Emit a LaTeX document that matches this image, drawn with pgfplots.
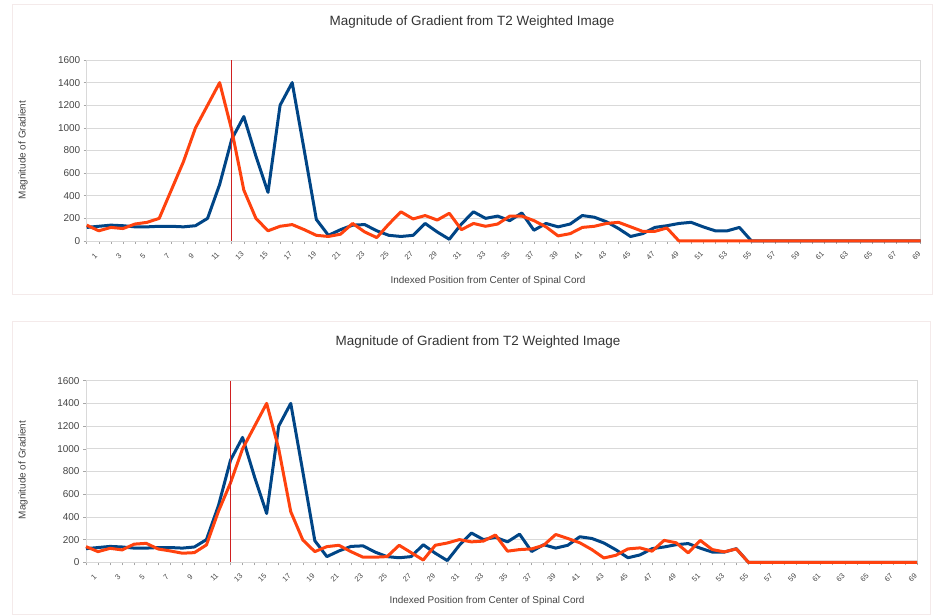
\documentclass[border=0pt]{standalone}
\usepackage{pgfplots}
\pgfplotsset{compat=1.18}
\usepackage{pgfplotstable}
\usepackage{fontspec}
\setmainfont{Liberation Sans}

\definecolor{seriesblue}{HTML}{004586}
\definecolor{seriesorange}{HTML}{FF420E}
\definecolor{markred}{HTML}{D02020}
\definecolor{gridgray}{HTML}{D9D9D9}
\definecolor{framepink}{HTML}{F4EAEA}
\definecolor{labelgray}{HTML}{444444}

% gradient magnitude per indexed position
\pgfplotstableread{
idx blue top bottom
1 120 140 138
2 130 90 94
3 140 120 123
4 135 110 109
5 125 150 160
6 125 165 167
7 130 200 117
8 130 450 100
9 125 700 80
10 135 1000 85
11 200 1200 153
12 500 1400 450
13 900 980 700
14 1100 450 1000
15 750 200 1200
16 430 90 1400
17 1200 130 1000
18 1400 145 446
19 800 100 197
20 190 50 94
21 50 40 138
22 100 60 150
23 140 155 94
24 145 80 45
25 90 30 45
26 50 150 50
27 40 258 150
28 50 195 85
29 155 225 20
30 80 185 150
31 15 245 170
32 150 100 200
33 258 155 180
34 200 130 187
35 220 150 240
36 180 220 98
37 248 220 112
38 95 180 118
39 155 125 150
40 125 45 245
41 150 65 210
42 225 120 172
43 210 130 112
44 170 155 38
45 110 165 62
46 40 125 118
47 65 85 127
48 120 85 98
49 135 115 193
50 155 0 172
51 165 0 83
52 125 0 193
53 90 0 112
54 90 0 92
55 120 0 118
56 0 0 0
57 0 0 0
58 0 0 0
59 0 0 0
60 0 0 0
61 0 0 0
62 0 0 0
63 0 0 0
64 0 0 0
65 0 0 0
66 0 0 0
67 0 0 0
68 0 0 0
69 0 0 0
70 0 0 0
}\gradients

\pgfplotsset{
  gradaxis/.style={
    scale only axis,
    xmin=1, xmax=70, ymin=0, ymax=1600,
    xtick={1,3,...,69},
    minor xtick={2,4,...,70},
    ytick={0,200,...,1600},
    xtick pos=bottom, ytick pos=left,
    tick align=outside,
    major tick length=3bp, minor tick length=3bp,
    tick style={gray!70, line width=0.5bp},
    ymajorgrids,
    major grid style={gridgray, line width=0.7bp},
    axis line style={gridgray, line width=0.7bp},
    /pgf/number format/1000 sep={},
    /pgf/number format/assume math mode=true,
    yticklabel style={font=\fontsize{10}{12}\selectfont, text=labelgray},
    xticklabel style={font=\fontsize{7.5}{9}\selectfont, text=labelgray,
      inner sep=0.5bp, rotate=45, anchor=center, yshift=-14bp, xshift=-3bp},
    clip=false,
    every axis plot/.style={line width=3bp, no markers, line join=round},
  }
}

\begin{document}
\begin{tikzpicture}[x=1bp, y=1bp]
\path (0,0) rectangle (935,615);
\draw[framepink, line width=1bp] (12,320) rectangle (932,610);
\draw[framepink, line width=1bp] (12,0.5) rectangle (930,293);

% top panel
\begin{axis}[gradaxis, at={(86.7bp,374bp)}, anchor=south west,
  width=834bp, height=181bp]
\addplot[seriesblue] table[x=idx, y=blue] {\gradients};
\addplot[seriesorange] table[x=idx, y=top] {\gradients};
\draw[markred, line width=1.1bp] (axis cs:13,0) -- (axis cs:13,1600);
\end{axis}
\node[font=\fontsize{13.5}{16}\selectfont, text=black!80] at (472,593) {Magnitude of Gradient from T2 Weighted Image};
\node[font=\fontsize{10}{12}\selectfont, text=labelgray] at (488,334) {Indexed Position from Center of Spinal Cord};
\node[font=\fontsize{10}{12}\selectfont, text=labelgray, rotate=90] at (23,465) {Magnitude of Gradient};

% bottom panel
\begin{axis}[gradaxis, at={(86bp,52.7bp)}, anchor=south west,
  width=831bp, height=181.6bp]
\addplot[seriesblue] table[x=idx, y=blue] {\gradients};
\addplot[seriesorange] table[x=idx, y=bottom] {\gradients};
\draw[markred, line width=1.1bp] (axis cs:13,0) -- (axis cs:13,1600);
\end{axis}
\node[font=\fontsize{13.5}{16}\selectfont, text=black!80] at (478,273) {Magnitude of Gradient from T2 Weighted Image};
\node[font=\fontsize{10}{12}\selectfont, text=labelgray] at (487,14) {Indexed Position from Center of Spinal Cord};
\node[font=\fontsize{10}{12}\selectfont, text=labelgray, rotate=90] at (23,145) {Magnitude of Gradient};
\end{tikzpicture}
\end{document}
